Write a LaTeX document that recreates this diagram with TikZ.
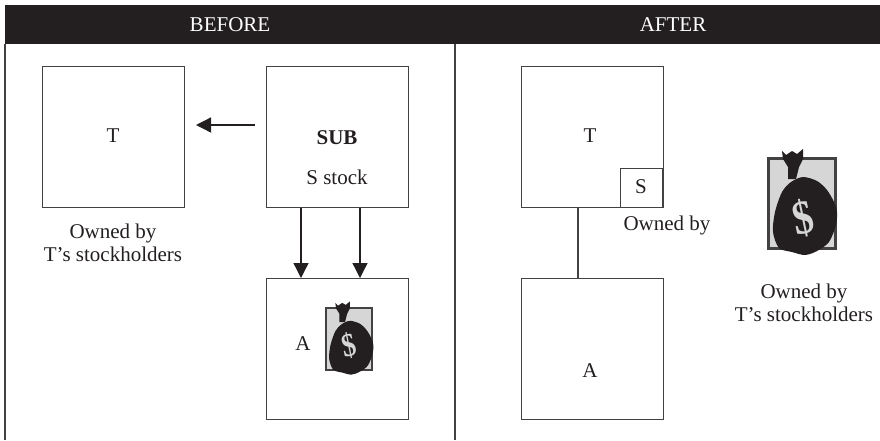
\documentclass[tikz,border=0pt]{standalone}
\usepackage{fontspec}
\setmainfont{Liberation Serif}
\usepackage{tikz}
\usetikzlibrary{arrows.meta}
\definecolor{inkblack}{HTML}{231F20}
\definecolor{baggray}{HTML}{D6D6D6}
\tikzset{
	boxnode/.style={draw=inkblack!85, line width=1.3pt, minimum width=142pt, minimum height=141pt, inner sep=0pt, anchor=north west},
	labeltext/.style={text=inkblack, font=\fontsize{21}{22.5}\selectfont, align=center},
	link/.style={line width=1.3pt, color=inkblack!85},
	arrowlink/.style={line width=1.3pt, color=inkblack, -{Triangle[length=15pt,width=15pt]}},
	moneybag/.pic={
		\begin{scope}[scale=#1]
		\draw[fill=baggray, draw=inkblack!85, line width=3pt*#1] (1.5, 1.5) rectangle (68.5, 91);
		\fill[inkblack] (15, -6) -- (19, -2) -- (25, -6) -- (30, -3) -- (36, -8) -- (36, 2) -- (32, 10) -- (29, 22) -- (21, 22) -- (21, 10) -- (16, 2) -- cycle;
		\fill[inkblack] plot[smooth cycle] coordinates {(36, 20) (50, 24) (60, 33) (67, 45) (70, 55) (69, 68) (62, 85) (50, 94) (38, 98) (25, 95) (12, 91) (6, 75) (8, 55) (15, 35) (24, 25)};
		\end{scope}
	},
}
\begin{document}
\begin{tikzpicture}[x=1pt, y=-1pt]
	\useasboundingbox (0, 0) rectangle (880, 440);
	%%%%% FRAME %%%%%
	\fill[inkblack] (5, 5) rectangle (880, 44);
	\draw[link] (5, 44) -- (5, 440);
	\draw[link] (455, 44) -- (455, 440);
	\node[labeltext, text=white] (before) at (230, 25) {BEFORE};
	\node[labeltext, text=white] (after) at (673, 25) {AFTER};

	%%%%% BEFORE %%%%%
	\node[boxnode] (t) at (42, 66) {};
	\node[boxnode] (sub) at (266, 66) {};
	\node[boxnode] (a) at (266, 278) {};
	\node[labeltext] (tname) at (113, 136) {T};
	\node[labeltext] (subname) at (337, 138) {\textbf{SUB}};
	\node[labeltext] (stock) at (337, 177) {S stock};
	\node[labeltext] (aname) at (303, 344) {A};
	\node[labeltext] (owner) at (113, 243) {Owned by\\T’s stockholders};

	\coordinate (from) at (255, 125);
	\coordinate (to) at (196, 125);
	\coordinate (stemleft) at (301, 0);
	\coordinate (stemright) at (360, 0);
	\coordinate (stemafter) at (578, 0);
	\draw[arrowlink] (from) -- (to);
	\draw[arrowlink] (sub.south -| stemleft) -- (a.north -| stemleft);
	\draw[arrowlink] (sub.south -| stemright) -- (a.north -| stemright);

	\pic at (325, 307) {moneybag=0.69};
	\node[text=baggray, font=\bfseries\fontsize{33}{33}\selectfont, rotate=12, xscale=0.85] (dollar) at (349, 346) {\$};

	%%%%% AFTER %%%%%
	\node[boxnode] (tafter) at (521, 66) {};
	\node[boxnode] (aafter) at (521, 278) {};
	\node[boxnode, minimum width=42pt, minimum height=39pt] (s) at (620, 168) {};
	\node[labeltext] (tnameafter) at (590, 136) {T};
	\node[labeltext] (snameafter) at (641, 187) {S};
	\node[labeltext] (anameafter) at (590, 371) {A};
	\node[labeltext] (ownedby) at (667, 225) {Owned by};
	\node[labeltext] (ownerafter) at (804, 303) {Owned by\\T’s stockholders};
	\draw[link] (tafter.south -| stemafter) -- (aafter.north -| stemafter);

	\pic at (767, 157) {moneybag=1};
	\node[text=baggray, font=\bfseries\fontsize{48}{48}\selectfont, rotate=12, xscale=0.85] (dollarafter) at (803, 218) {\$};
\end{tikzpicture}
\end{document}
